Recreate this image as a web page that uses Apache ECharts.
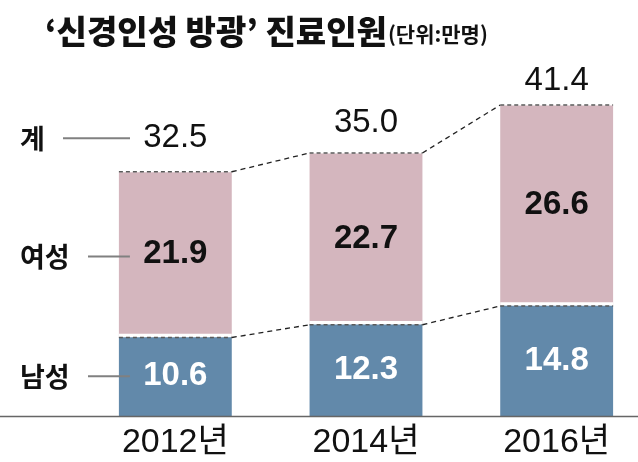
<!DOCTYPE html>
<html>
<head>
<meta charset="utf-8">
<script src="https://cdn.jsdelivr.net/npm/echarts@6/dist/echarts.min.js"></script>
<style>html,body{margin:0;padding:0;background:#fff}#c{width:638px;height:462px}</style>
</head>
<body>
<div id="c"></div>
<script>
// ---- data ----
const categories = ['2012년', '2014년', '2016년'];
const male = [10.6, 12.3, 14.8];
const female = [21.9, 22.7, 26.6];
const total = [32.5, 35.0, 41.4];
const totalLabels = ['32.5', '35.0', '41.4'];
const seriesNames = ['남성', '여성', '계'];

// ---- style ----
const BLUE = '#6289aa';
const PINK = '#d4b6be';
const BAR_RATIO = 0.592;
const NUM_FONT = "'Liberation Sans', Arial, sans-serif";
const KR_FONT = "'Noto Sans CJK KR', sans-serif";
const totalGap = [34, 31, 25];

const chart = echarts.init(document.getElementById('c'), null, {renderer: 'canvas'});

function renderConnectors(params, api) {
  const i = params.dataIndex;
  const n = categories.length;
  const band = api.size([1, 0])[0];
  const hw = band * BAR_RATIO / 2;
  const c = api.coord([i, total[i]]);
  const m = api.coord([i, male[i]]);
  const b = api.coord([i, 0]);
  const kids = [];
  kids.push({type: 'line', shape: {x1: c[0] - hw, y1: m[1] - 1, x2: c[0] + hw, y2: m[1] - 1},
    style: {stroke: '#fff', lineWidth: 3.5}});
  kids.push({type: 'line', shape: {x1: c[0] - hw, y1: m[1] + 1, x2: c[0] + hw, y2: m[1] + 1},
    style: {stroke: '#5a5a5a', lineWidth: 1.3, lineDash: [4, 3]}});
  kids.push({type: 'line', shape: {x1: c[0] - hw, y1: c[1] - 0.5, x2: c[0] + hw, y2: c[1] - 0.5},
    style: {stroke: '#5a5a5a', lineWidth: 1.3, lineDash: [4, 3]}});
  if (i < n - 1) {
    const c2 = api.coord([i + 1, total[i + 1]]);
    const m2 = api.coord([i + 1, male[i + 1]]);
    kids.push({type: 'line', shape: {x1: c[0] + hw, y1: c[1] - 0.5, x2: c2[0] - hw, y2: c2[1] - 0.5},
      style: {stroke: '#222', lineWidth: 1.3, lineDash: [5, 4]}});
    kids.push({type: 'line', shape: {x1: c[0] + hw, y1: m[1] + 1, x2: m2[0] - hw, y2: m2[1] + 1},
      style: {stroke: '#222', lineWidth: 1.3, lineDash: [5, 4]}});
  }
  kids.push({type: 'text', style: {text: totalLabels[i], x: c[0], y: c[1] - totalGap[i],
    align: 'center', verticalAlign: 'middle', fill: '#111', font: '33px ' + NUM_FONT}});
  if (i === 0) {
    const w = api.getWidth();
    kids.push({type: 'line', shape: {x1: 0, y1: b[1] + 0.5, x2: w, y2: b[1] + 0.5},
      style: {stroke: '#666', lineWidth: 1.5}});
    const yT = c[1] - totalGap[i];
    const yF = (c[1] + m[1]) / 2 + 2;
    const yM = (m[1] + b[1]) / 2;
    const lab = (t, y) => ({type: 'text', style: {text: t, x: 20, y: y, align: 'left', verticalAlign: 'middle',
      fill: '#111', font: 'bold 27px ' + KR_FONT}});
    kids.push(lab(seriesNames[2], yT));
    kids.push(lab(seriesNames[1], yF));
    kids.push(lab(seriesNames[0], yM));
    const ln = (x1, x2, y) => ({type: 'line', shape: {x1: x1, y1: y, x2: x2, y2: y},
      style: {stroke: '#808080', lineWidth: 2}});
    kids.push(ln(63, 130, yT));
    kids.push(ln(88, c[0] - hw + 11, yF));
    kids.push(ln(88, c[0] - hw + 11, yM));
  }
  return {type: 'group', children: kids};
}

chart.setOption({
  animation: false,
  title: {
    left: 40, top: 2,
    text: '{a|‘신경인성 방광’ 진료인원}{b|(단위:만명)}',
    textStyle: {
      rich: {
        a: {fontFamily: KR_FONT, fontWeight: 900, fontSize: 33, color: '#111', lineHeight: 48},
        b: {fontFamily: KR_FONT, fontWeight: 'bold', fontSize: 21, color: '#111', lineHeight: 48, padding: [6, 0, 0, 1]}
      }
    }
  },
  grid: {left: 80, width: 572, top: 41, bottom: 46, containLabel: false, outerBoundsMode: 'none'},
  xAxis: {
    type: 'category', data: categories,
    axisLine: {show: false}, axisTick: {show: false},
    axisLabel: {fontFamily: NUM_FONT + ", 'Noto Sans CJK KR'", fontSize: 34, color: '#111', margin: 10}
  },
  yAxis: {type: 'value', min: 0, max: 50, show: false, splitLine: {show: false}},
  series: [
    {name: seriesNames[0], type: 'bar', stack: 's', data: male, barWidth: (BAR_RATIO * 100) + '%',
      itemStyle: {color: BLUE},
      label: {show: true, position: 'inside', color: '#fff', fontFamily: NUM_FONT, fontWeight: 'bold', fontSize: 33,
        formatter: p => p.value.toFixed(1)}},
    {name: seriesNames[1], type: 'bar', stack: 's', data: female, barWidth: (BAR_RATIO * 100) + '%',
      itemStyle: {color: PINK},
      label: {show: true, position: 'inside', color: '#111', fontFamily: NUM_FONT, fontWeight: 'bold', fontSize: 33,
        formatter: p => p.value.toFixed(1)}},
    {name: seriesNames[2], type: 'custom', renderItem: renderConnectors, data: total.map((v, i) => [i, v]),
      z: 5, silent: true}
  ]
});
</script>
</body>
</html>
